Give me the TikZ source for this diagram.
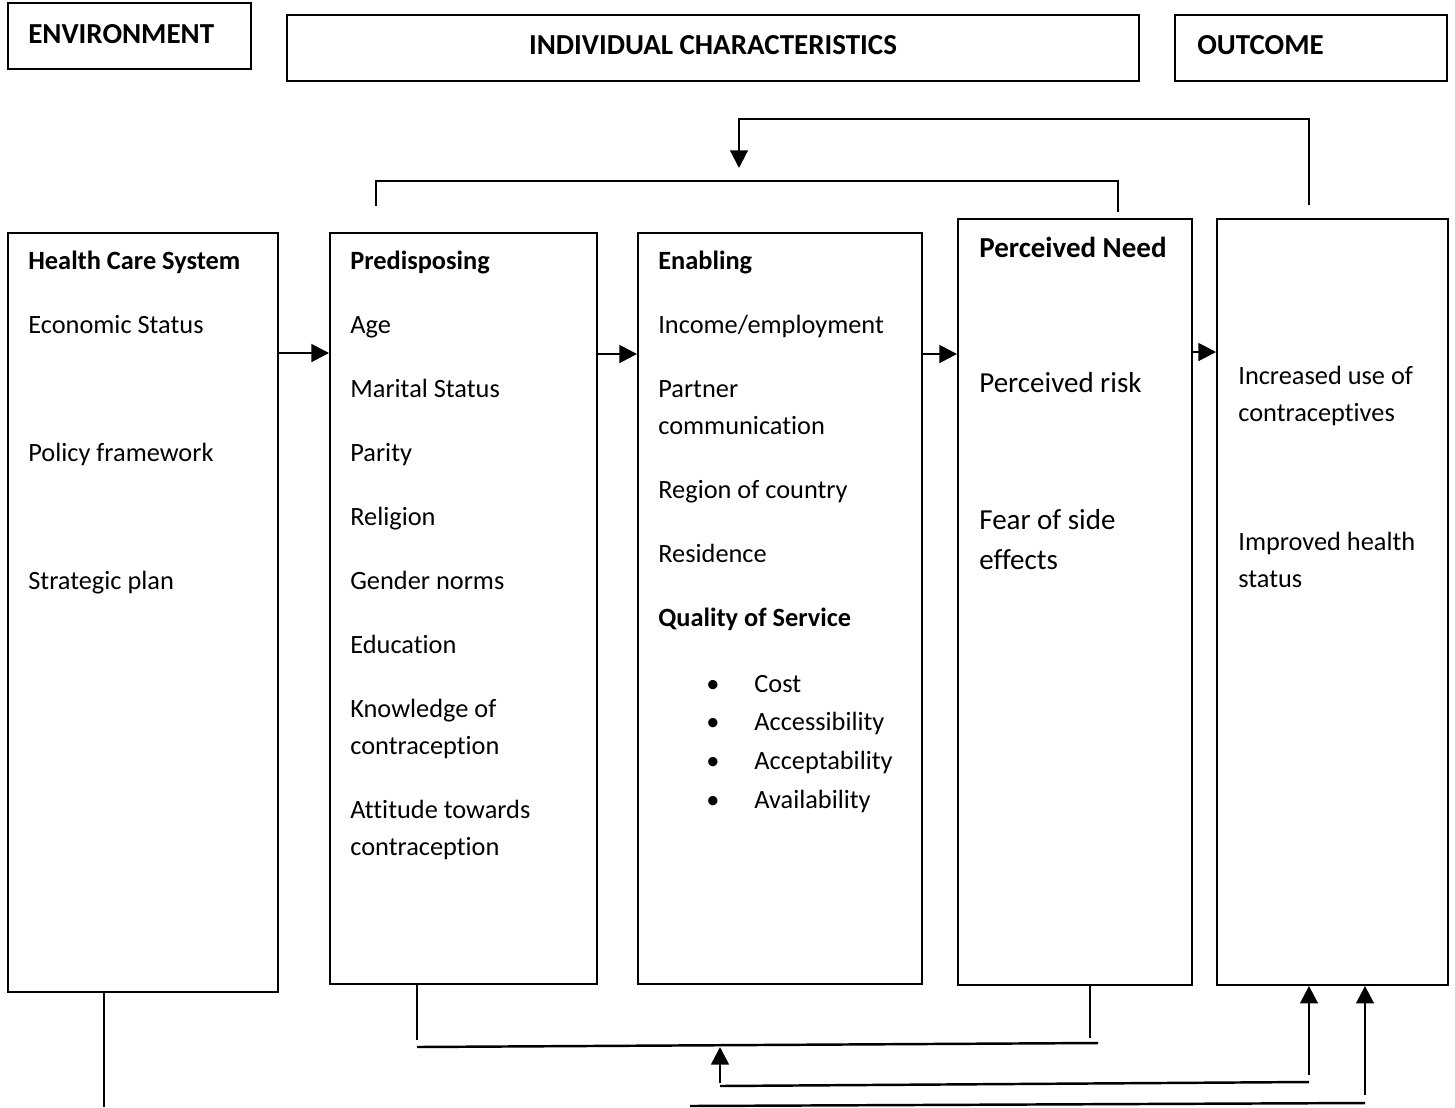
\documentclass[tikz,border=0pt]{standalone}
\usepackage{fontspec}
\setmainfont{Carlito}[Ligatures=CommonOff]
\usetikzlibrary{arrows.meta}
\usetikzlibrary{positioning}
\tikzstyle{box} = [draw, line width=1.1pt, rectangle, inner sep=0pt]
\tikzstyle{item} = [anchor=base west, inner sep=0pt, align=left,
font=\fontsize{15}{21}\selectfont]
\tikzstyle{head} = [item, font=\fontsize{15}{21}\selectfont\bfseries]
\tikzstyle{big} = [item, font=\fontsize{16.5}{22.7}\selectfont]
\tikzstyle{line} = [draw, line width=1pt]
\tikzstyle{arr} = [draw, line width=1.5pt, -{Triangle[length=10pt,width=10pt]}]

\begin{document}
\begin{tikzpicture}[x=0.02cm, y=-0.02cm]
	\useasboundingbox (0,0) rectangle (1455,1107);
	%% top headers
	\node [box, minimum width=4.86cm, minimum height=1.32cm] (env) at (129.5,36) {};
	\node [box, minimum width=17.04cm, minimum height=1.32cm] (ind) at (713,48) {};
	\node [box, minimum width=5.44cm, minimum height=1.32cm] (out) at (1311,48) {};
	\node [big, font=\fontsize{16.5}{22.7}\selectfont\bfseries] (envt) at (28,43.5) {ENVIRONMENT};
	\node [big, anchor=base, font=\fontsize{16.5}{22.7}\selectfont\bfseries] (indt) at (713,54.5) {INDIVIDUAL CHARACTERISTICS};
	\node [big, font=\fontsize{16.5}{22.7}\selectfont\bfseries] (outt) at (1197,54.5) {OUTCOME};
	%% columns
	\node [box, minimum width=5.4cm, minimum height=15.18cm] (hcs) at (143,612.5) {};
	\node [box, minimum width=5.34cm, minimum height=15.02cm] (pre) at (463.5,608.5) {};
	\node [box, minimum width=5.68cm, minimum height=15.02cm] (ena) at (780,608.5) {};
	\node [box, minimum width=4.68cm, minimum height=15.32cm] (need) at (1075,602) {};
	\node [box, minimum width=4.62cm, minimum height=15.32cm] (res) at (1332.5,602) {};
	%% Health care system
	\node [head] (hcsh) at (28,269) {Health Care System};
	\foreach \t/\y [count=\i] in {Economic Status/333, Policy framework/461, Strategic plan/589}
		\node [item] (hcs\i) at (28,\y) {\t};
	%% Predisposing
	\node [head] (preh) at (350,269) {Predisposing};
	\foreach \t/\y [count=\i] in {Age/333, Marital Status/397, Parity/461, Religion/525,
		Gender norms/589, Education/653, Knowledge of\\contraception/754,
		Attitude towards\\contraception/855}
		\node [item] (pre\i) at (350,\y) {\t};
	%% Enabling
	\node [head] (enah) at (658,269) {Enabling};
	\foreach \t/\y [count=\i] in {{Income/employment}/333, Partner\\communication/434,
		Region of country/498, Residence/562}
		\node [item] (ena\i) at (658,\y) {\t};
	\node [head] (qos) at (658,626) {Quality of Service};
	\foreach \t/\y [count=\i] in {Cost/692, Accessibility/730, Acceptability/769, Availability/808} {
		\node [item, anchor=base] (bul\i) at (713,\y) {\textbullet};
		\node [item] (qos\i) at (754,\y) {\t};
	}
	%% Perceived need
	\node [big, font=\fontsize{16.5}{22.7}\selectfont\bfseries] (needh) at (979,257) {Perceived Need};
	\node [big] (need1) at (979,392) {Perceived risk};
	\node [big] (need2) at (979,569) {Fear of side\\effects};
	%% Outcome
	\node [item] (res1) at (1238,421) {Increased use of\\contraceptives};
	\node [item] (res2) at (1238,587) {Improved health\\status};
	%% Flows
	\coordinate (r1) at (0,353);
	\coordinate (r2) at (0,354);
	\coordinate (r3) at (0,352);
	\draw [arr] (hcs.east |- r1) -- (pre.west |- r1);
	\draw [arr] (pre.east |- r2) -- (ena.west |- r2);
	\draw [arr] (ena.east |- r2) -- (need.west |- r2);
	\draw [arr] (need.east |- r3) -- (res.west |- r3);
	%% feedback on top
	\coordinate (t1) at (376,206);
	\coordinate (t2) at (1118,212);
	\coordinate (fb1) at (1309,205);
	\coordinate (fb2) at (739,168);
	\path [line] (t1) -- ++(0,-25) -| (t2);
	\path [arr, line width=1.2pt] (fb1) -- ++(0,-86) -| (fb2);
	%% feedback below
	\coordinate (b1) at (417,1040);
	\coordinate (b2) at (417,1047);
	\coordinate (b3) at (1098,1043);
	\coordinate (b4) at (1090,1038);
	\coordinate (b5) at (720,1083);
	\coordinate (b6) at (720,1086);
	\coordinate (b7) at (1309,1082);
	\coordinate (b8) at (1309,1075);
	\coordinate (b9) at (690,1106);
	\coordinate (b10) at (1365,1103);
	\coordinate (b11) at (1365,1095);
	\coordinate (b12) at (104,1107);
	\path [line] (pre.south -| b1) -- (b1);
	\path [line, line width=1.4pt] (b2) -- (b3);
	\path [line] (need.south -| b4) -- (b4);
	\path [arr] (b5) -- (b5 |- b2);
	\path [line, line width=1.4pt] (b6) -- (b7);
	\path [arr] (b8) -- (res.south -| b8);
	\path [line, line width=1.4pt] (b9) -- (b10);
	\path [arr] (b11) -- (res.south -| b11);
	\path [line] (hcs.south -| b12) -- (b12);
\end{tikzpicture}
\end{document}
